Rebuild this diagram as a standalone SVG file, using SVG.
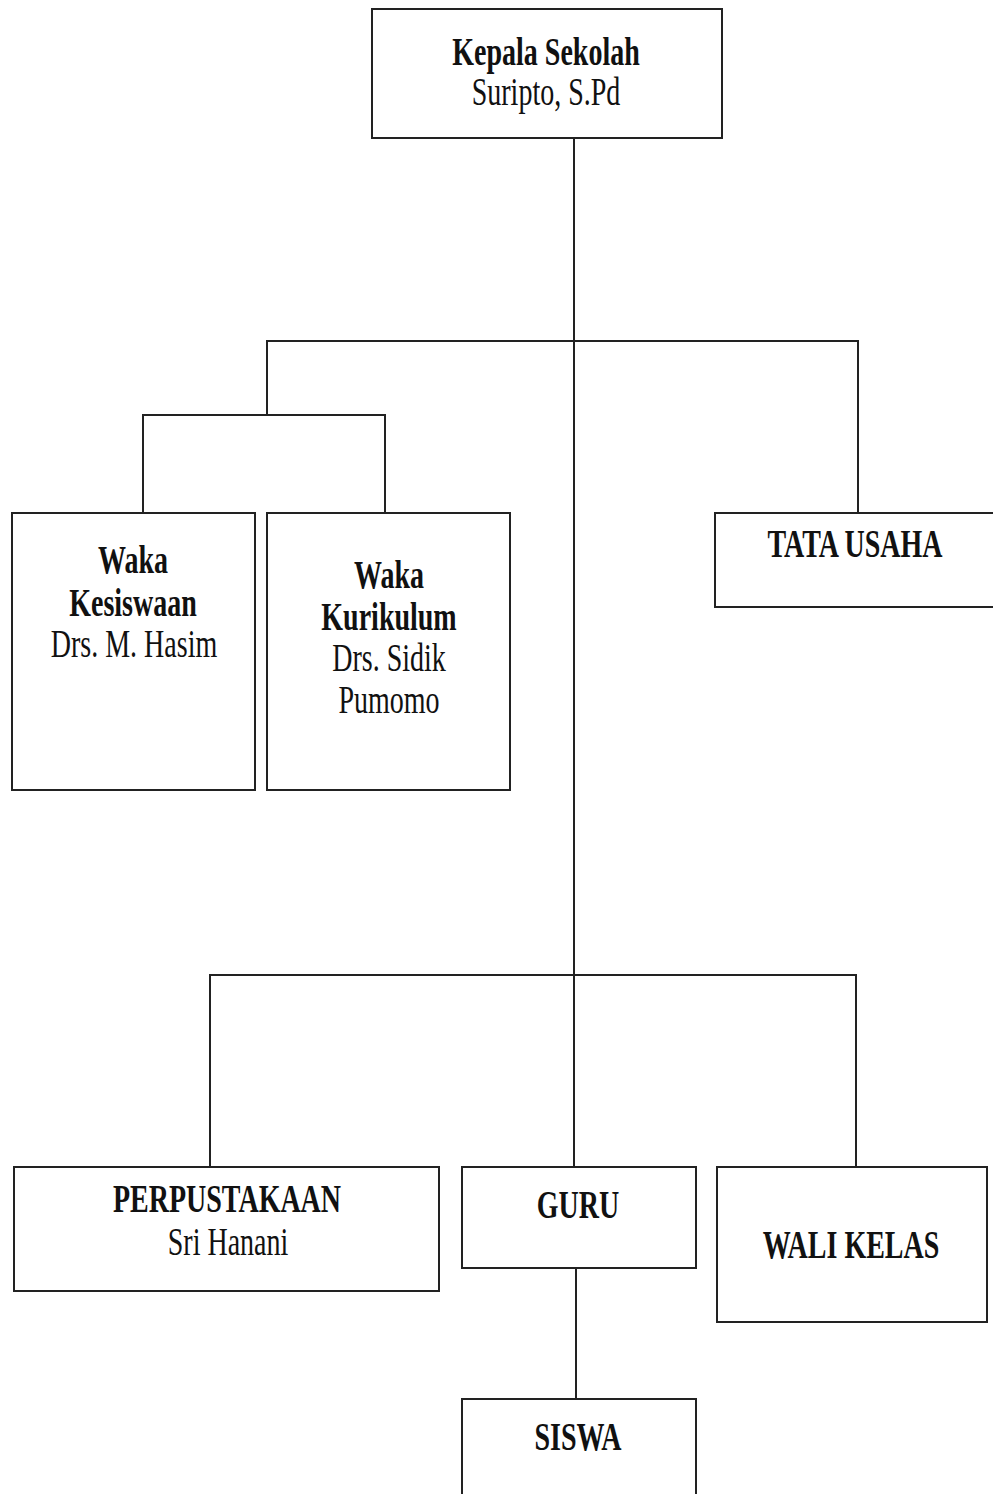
<svg xmlns="http://www.w3.org/2000/svg" width="993" height="1494" viewBox="0 0 993 1494">
<style>
.box{fill:#fff;stroke:#222;stroke-width:2}
.ln{fill:none;stroke:#222;stroke-width:2}
text{font-family:"Liberation Serif","Times New Roman",serif;font-size:28px;text-anchor:middle;fill:#111}
.b{font-weight:bold}
</style>
<rect width="993" height="1494" fill="#fff"/>
<g id="connectors">
<path class="ln" d="M574,138 V1167"/>
<path class="ln" d="M267,415 V341 H858 V513"/>
<path class="ln" d="M143,513 V415 H385 V513"/>
<path class="ln" d="M210,1167 V975 H856 V1167"/>
<path class="ln" d="M576,1268 V1399"/>
</g>
<g id="kepala">
<rect class="box" x="372" y="9" width="350" height="129"/>
<text class="b" transform="translate(546,65) scale(1,1.42)">Kepala Sekolah</text>
<text transform="translate(546,105) scale(1,1.42)">Suripto, S.Pd</text>
</g>
<g id="kesiswaan">
<rect class="box" x="12" y="513" width="243" height="277"/>
<text class="b" transform="translate(133,573) scale(1,1.42)">Waka</text>
<text class="b" transform="translate(133,616) scale(1,1.42)">Kesiswaan</text>
<text transform="translate(134,657) scale(1,1.42)">Drs. M. Hasim</text>
</g>
<g id="kurikulum">
<rect class="box" x="267" y="513" width="243" height="277"/>
<text class="b" transform="translate(389,588) scale(1,1.42)">Waka</text>
<text class="b" transform="translate(389,630) scale(1,1.42)">Kurikulum</text>
<text transform="translate(389,671) scale(1,1.42)">Drs. Sidik</text>
<text transform="translate(389,713) scale(1,1.42)">Pumomo</text>
</g>
<g id="tatausaha">
<rect class="box" x="715" y="513" width="290" height="94"/>
<text class="b" transform="translate(855,557) scale(1,1.42)">TATA USAHA</text>
</g>
<g id="perpustakaan">
<rect class="box" x="14" y="1167" width="425" height="124"/>
<text class="b" transform="translate(227,1212) scale(1,1.42)">PERPUSTAKAAN</text>
<text transform="translate(228,1255) scale(1,1.42)">Sri Hanani</text>
</g>
<g id="guru">
<rect class="box" x="462" y="1167" width="234" height="101"/>
<text class="b" transform="translate(578,1218) scale(1,1.42)">GURU</text>
</g>
<g id="walikelas">
<rect class="box" x="717" y="1167" width="270" height="155"/>
<text class="b" transform="translate(851,1258) scale(1,1.42)">WALI KELAS</text>
</g>
<g id="siswa">
<rect class="box" x="462" y="1399" width="234" height="110"/>
<text class="b" transform="translate(578,1450) scale(1,1.42)">SISWA</text>
</g>
</svg>
